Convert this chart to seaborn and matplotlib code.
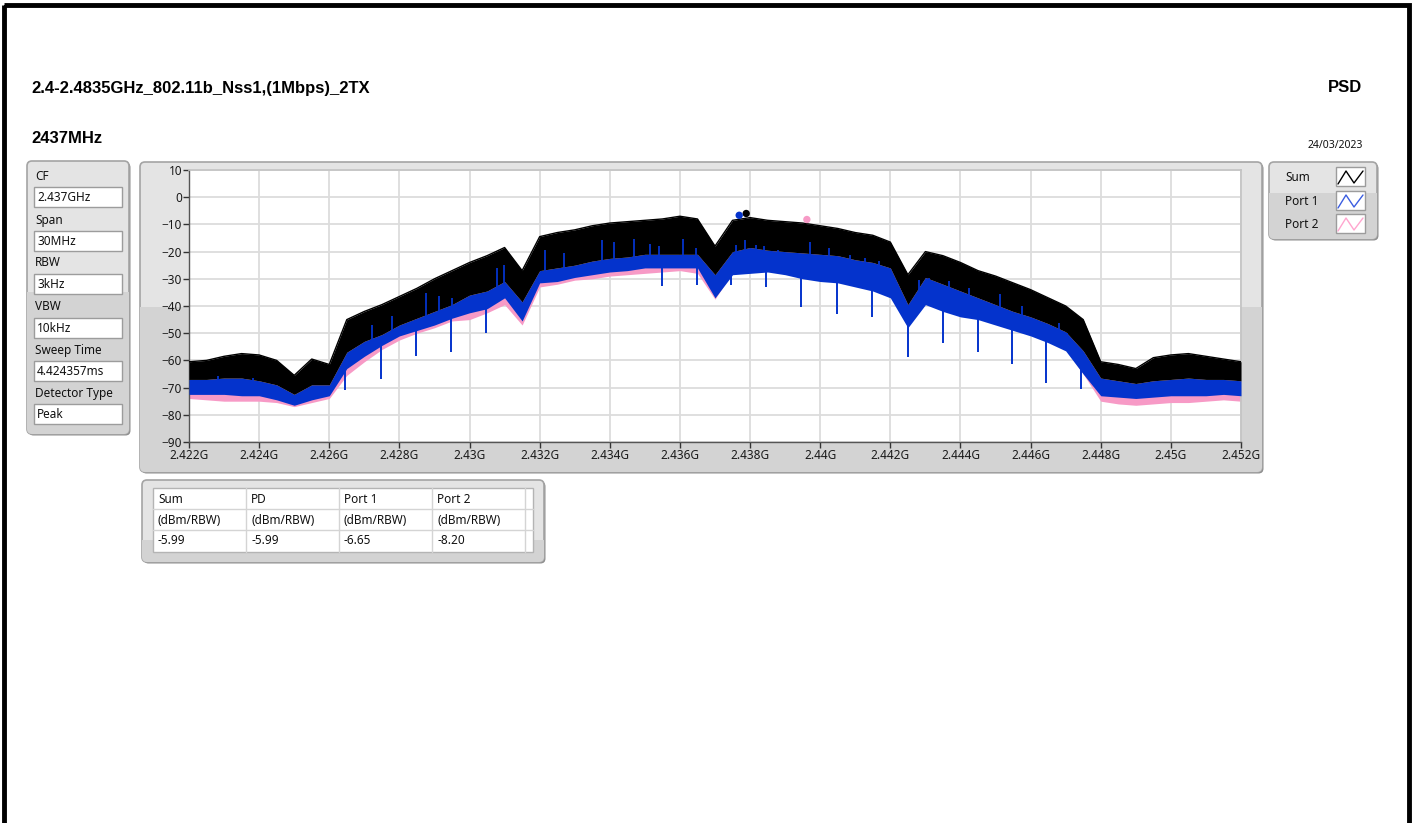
import numpy as np
import matplotlib.pyplot as plt
import seaborn as sns
from matplotlib.patches import FancyBboxPatch, Rectangle

sns.set_theme(style='whitegrid')
plt.rcParams['font.family'] = ['Noto Sans', 'DejaVu Sans']
plt.rcParams['text.color'] = '#111111'

W, H = 1415, 823

# --- data (frequency grid every 0.5 MHz) ---
freq = np.round(np.arange(2.422, 2.45201, 0.0005), 4)

# black band (Sum) upper / lower edge
sum_hi = [-60.5, -60.0, -58.5, -57.5, -58.0, -60.0, -65.5, -59.5, -61.5, -45.0,
          -42.0, -39.5, -36.5, -33.5, -30.0, -27.0, -24.0, -21.5, -18.5, -27.0,
          -14.5, -13.0, -12.0, -10.5, -9.5, -9.0, -8.5, -8.0, -7.0, -8.0,
          -18.0, -8.5, -7.5, -8.5, -9.0, -9.5, -10.5, -11.5, -13.0, -14.0,
          -16.5, -28.5, -20.0, -21.5, -24.0, -27.0, -29.0, -31.5, -34.0, -37.0,
          -40.0, -45.0, -60.5, -61.5, -63.0, -59.0, -58.0, -57.5, -58.5, -59.5,
          -60.5]
sum_lo = [-67.0, -67.0, -66.5, -66.5, -67.5, -69.0, -72.5, -69.0, -69.0, -57.0,
          -53.0, -50.5, -47.0, -44.5, -42.0, -39.5, -36.0, -34.5, -31.0, -38.5,
          -27.0, -26.0, -25.0, -23.5, -22.5, -22.0, -21.0, -21.0, -21.0, -21.0,
          -28.5, -20.0, -18.5, -19.5, -20.0, -20.5, -21.0, -21.5, -23.0, -24.0,
          -26.0, -39.5, -29.5, -32.0, -34.5, -37.0, -39.5, -42.0, -44.0, -46.5,
          -49.5, -56.5, -66.5, -67.5, -68.5, -67.5, -67.0, -66.5, -67.0, -67.0,
          -67.5]
# Port 1 (blue) lower edge
port1_lo = [-72.5, -72.5, -72.5, -73.0, -73.0, -74.5, -76.5, -74.5, -73.0, -63.0,
            -58.5, -54.5, -51.0, -49.0, -47.0, -44.5, -42.5, -41.0, -37.0, -45.5,
            -31.5, -31.0, -29.5, -28.5, -27.5, -27.0, -26.0, -26.0, -26.0, -26.0,
            -37.0, -28.5, -28.0, -27.5, -28.5, -30.0, -31.0, -31.5, -33.0, -34.5,
            -37.0, -48.0, -39.5, -42.0, -44.0, -45.0, -47.0, -49.0, -51.0, -53.5,
            -56.5, -65.0, -73.0, -73.5, -74.0, -73.5, -73.0, -73.0, -73.0, -72.5,
            -73.0]
# Port 2 (pink) lower edge
port2_lo = [-74.0, -74.5, -75.0, -75.0, -75.0, -75.5, -77.0, -75.5, -74.0, -65.5,
            -60.5, -56.0, -52.5, -50.0, -48.0, -45.5, -45.0, -42.5, -39.5, -47.0,
            -33.0, -32.0, -30.5, -30.0, -29.0, -28.5, -28.0, -27.5, -27.0, -28.0,
            -37.5, -27.5, -27.0, -27.0, -28.0, -29.5, -30.5, -31.0, -32.5, -34.0,
            -36.5, -47.5, -39.0, -41.5, -43.5, -44.5, -46.5, -48.5, -50.5, -53.0,
            -56.0, -65.0, -75.0, -76.0, -76.5, -76.0, -75.5, -75.5, -75.0, -74.5,
            -75.0]

# deep Port 1 spikes
spike_freq = [2.42645, 2.42747, 2.42847, 2.42946, 2.43046, 2.43548, 2.43648,
              2.43746, 2.43846, 2.43946, 2.44048, 2.44148, 2.44250, 2.44350,
              2.44450, 2.44547, 2.44645, 2.44745]
spike_val = [-71.0, -67.0, -58.5, -57.0, -50.0, -32.8, -32.2, -32.2, -33.0,
             -40.2, -42.8, -44.2, -58.7, -53.7, -56.8, -61.3, -68.2, -70.5]

# Port 1 streaks showing up into the black band
streak_freq = [2.42282, 2.42382, 2.42723, 2.42780, 2.42875, 2.42913, 2.42950,
               2.43078, 2.43097, 2.43216, 2.43269, 2.43378, 2.43411, 2.43469,
               2.43516, 2.43540, 2.43609, 2.43645, 2.43759, 2.43786, 2.43816,
               2.43841, 2.43881, 2.43970, 2.44024, 2.44086, 2.44129, 2.44167,
               2.44281, 2.44310, 2.44367, 2.44424, 2.44514, 2.44575, 2.44680,
               2.44703]
streak_val = [-65.9, -66.5, -46.9, -43.8, -35.2, -36.4, -37.0, -26.0, -24.8,
              -19.3, -20.5, -15.6, -16.4, -15.2, -17.2, -18.0, -15.2, -18.6,
              -17.4, -15.6, -17.4, -18.0, -19.3, -16.4, -18.6, -21.1, -22.3,
              -23.6, -30.3, -29.7, -30.9, -33.4, -35.6, -40.1, -46.3, -49.9]

# peak markers: Sum, Port 1, Port 2
peak_freq = [2.43789, 2.43769, 2.43962]
peak_val = [-5.99, -6.65, -8.20]

y_ticks = list(range(-90, 11, 10))
x_ticks = [2.422, 2.424, 2.426, 2.428, 2.430, 2.432, 2.434, 2.436,
           2.438, 2.440, 2.442, 2.444, 2.446, 2.448, 2.450, 2.452]
x_labels = ['2.422G', '2.424G', '2.426G', '2.428G', '2.43G', '2.432G', '2.434G',
            '2.436G', '2.438G', '2.44G', '2.442G', '2.444G', '2.446G', '2.448G',
            '2.45G', '2.452G']

setting_names = ['CF', 'Span', 'RBW', 'VBW', 'Sweep Time', 'Detector Type']
setting_vals = ['2.437GHz', '30MHz', '3kHz', '10kHz', '4.424357ms', 'Peak']

legend_names = ['Sum', 'Port 1', 'Port 2']
table_cols = ['Sum', 'PD', 'Port 1', 'Port 2']
table_units = ['(dBm/RBW)'] * 4
table_vals = ['-5.99', '-5.99', '-6.65', '-8.20']

c_sum, c_p1, c_p2 = 'black', '#0433cc', '#f79ac6'
bold_font = ['Liberation Sans', 'DejaVu Sans']

fig = plt.figure(figsize=(W / 100, H / 100), dpi=100)
fig.patch.set_facecolor('white')

# background layer in pixel coordinates
bg = fig.add_axes([0, 0, 1, 1])
bg.set_xlim(0, W)
bg.set_ylim(H, 0)
bg.axis('off')

bg.add_patch(Rectangle((4, 5), W - 10, H + 20, fill=False, ec='black', lw=3.5))


def panel(x0, y0, x1, y1, split):
    sh = FancyBboxPatch((x0 + 1.5, y0 + 1.5), x1 - x0, y1 - y0,
                        boxstyle='round,pad=0,rounding_size=5', fc='#8e8e8e', ec='none')
    bg.add_patch(sh)
    p = FancyBboxPatch((x0, y0), x1 - x0, y1 - y0,
                       boxstyle='round,pad=0,rounding_size=5', fc='#e4e4e4', ec='#a4a4a4', lw=1.2)
    bg.add_patch(p)
    r = Rectangle((x0, split), x1 - x0, y1 - split, fc='#d3d3d3', ec='none')
    bg.add_patch(r)
    r.set_clip_path(p)


# titles
bg.text(31, 88, '2.4-2.4835GHz_802.11b_Nss1,(1Mbps)_2TX', fontsize=12,
        fontweight='bold', va='center', family=bold_font, color='black')
bg.text(1362, 87, 'PSD', fontsize=12, fontweight='bold', va='center', ha='right',
        family=bold_font, color='black')
bg.text(31, 138, '2437MHz', fontsize=12, fontweight='bold', va='center',
        family=bold_font, color='black')
bg.text(1363, 145, '24/03/2023', fontsize=7.5, va='center', ha='right')

# settings panel
panel(27, 161, 129, 434, 292)
label_y = [176, 220, 263, 307, 350, 393]
for name, val, ly in zip(setting_names, setting_vals, label_y):
    bg.text(35, ly, name, fontsize=8.5, va='center')
    bg.add_patch(Rectangle((34, ly + 11), 88, 20, fc='white', ec='#9c9c9c', lw=1))
    bg.text(37, ly + 21.5, val, fontsize=8.5, va='center')

# chart panel
panel(140, 162, 1262, 472, 307)

# legend panel
panel(1269, 162, 1377, 239, 193)
leg_y = [177, 201, 224]
for name, col, ly in zip(legend_names, [c_sum, '#3b5de0', '#ffa6cf'], leg_y):
    bg.text(1285, ly, name, fontsize=8.5, va='center')
    bg.add_patch(Rectangle((1336, ly - 10), 29, 19, fc='white', ec='#9c9c9c', lw=1))
    bg.plot([1338, 1346, 1354, 1363], [ly + 7, ly - 6, ly + 6, ly - 6], color=col, lw=1)

# table panel
panel(142, 480, 544, 562, 540)
bg.add_patch(Rectangle((153, 488), 380, 64, fc='white', ec='#b4b4b4', lw=1))
for xl in [246, 339, 432, 525]:
    bg.plot([xl, xl], [488, 552], color='#d4d4d4', lw=1)
for yl in [509, 530]:
    bg.plot([153, 533], [yl, yl], color='#d4d4d4', lw=1)
col_x = [158, 251, 344, 437]
for cx, a, b, c in zip(col_x, table_cols, table_units, table_vals):
    bg.text(cx, 499, a, fontsize=8.5, va='center')
    bg.text(cx, 520, b, fontsize=8.5, va='center')
    bg.text(cx, 540, c, fontsize=8.5, va='center')

# main spectrum axes
ax = fig.add_axes([189 / W, 1 - 442 / H, 1052 / W, 272 / H])
ax.set_facecolor('white')
ax.fill_between(freq, port2_lo, sum_lo, color=c_p2, lw=0, zorder=2)
ax.fill_between(freq, port1_lo, sum_lo, color=c_p1, lw=0, zorder=3)
spike_top = np.interp(spike_freq, freq, port1_lo)
ax.vlines(spike_freq, spike_val, spike_top + 2, color=c_p1, lw=1.4, zorder=3)
ax.fill_between(freq, sum_lo, sum_hi, color=c_sum, lw=0, zorder=4)
sns.lineplot(x=freq, y=sum_hi, color=c_sum, lw=1, ax=ax, zorder=4)
streak_base = np.interp(streak_freq, freq, sum_lo)
ax.vlines(streak_freq, streak_base - 1, streak_val, color=c_p1, lw=1.3, zorder=4.5)
sns.scatterplot(x=peak_freq, y=peak_val, hue=['Sum', 'Port 1', 'Port 2'],
                palette=[c_sum, c_p1, c_p2], s=28, ax=ax, legend=False,
                edgecolor='none', zorder=5)

ax.set_xlim(2.422, 2.452)
ax.set_ylim(-90, 10)
ax.set_yticks(y_ticks)
ax.set_xticks(x_ticks)
ax.set_xticklabels(x_labels)
ax.grid(True, color='#dcdcdc', lw=1.3)
ax.set_axisbelow(True)
ax.tick_params(axis='both', length=4, width=1, color='#333333', labelsize=8.5,
               labelcolor='#1a1a1a', pad=1, left=True, bottom=True)
for side in ['top', 'right']:
    ax.spines[side].set_color('#c4c4c4')
for side in ['left', 'bottom']:
    ax.spines[side].set_color('#555555')
    ax.spines[side].set_linewidth(1)

fig.savefig('out.png', dpi=100)
